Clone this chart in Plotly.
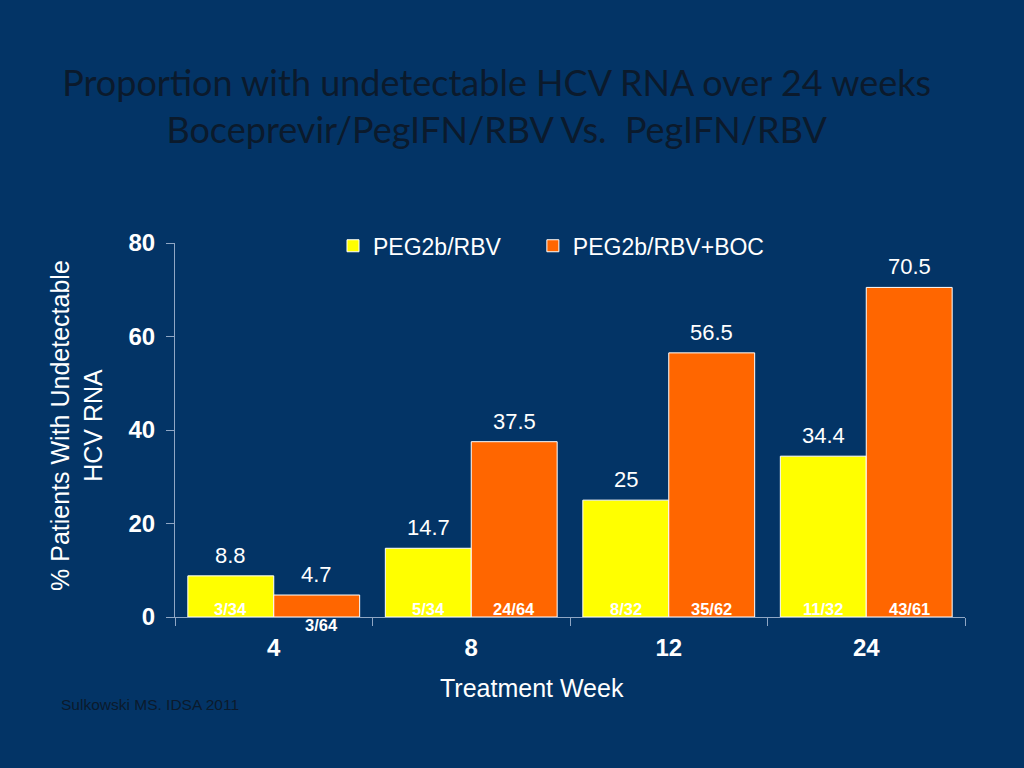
import plotly.graph_objects as go

# --- DATA ---
weeks = ["4", "8", "12", "24"]
peg_rbv = [8.8, 14.7, 25, 34.4]
peg_rbv_boc = [4.7, 37.5, 56.5, 70.5]
peg_rbv_frac = ["3/34", "5/34", "8/32", "11/32"]
peg_rbv_boc_frac = ["3/64", "24/64", "35/62", "43/61"]

BG = "#033466"
DARK = "#0b1a2c"
AXIS = "#8fa6c4"
BAR_SHIFT = 43  # half a bar width in pixels

fig = go.Figure()
fig.add_trace(go.Bar(
    x=weeks, y=peg_rbv, name="PEG2b/RBV", legend="legend",
    marker=dict(color="#FFFF00", line=dict(color="white", width=1)),
))
fig.add_trace(go.Bar(
    x=weeks, y=peg_rbv_boc, name="PEG2b/RBV+BOC", legend="legend2",
    marker=dict(color="#FF6600", line=dict(color="white", width=1)),
))

annotations = []
for i in range(len(weeks)):
    # value labels above the bars
    for v, sh in ((peg_rbv[i], -BAR_SHIFT), (peg_rbv_boc[i], BAR_SHIFT)):
        annotations.append(dict(x=i, y=v, text=f"{v:g}", showarrow=False,
                                xshift=sh, yanchor="bottom", yshift=6,
                                font=dict(color="white", size=22, family="Arial")))
    # fraction labels at the foot of each bar
    annotations.append(dict(x=i, y=0, text=f"<b>{peg_rbv_frac[i]}</b>", showarrow=False,
                            xshift=-BAR_SHIFT, yanchor="bottom", yshift=-3,
                            font=dict(color="white", size=16.5, family="Arial")))
    below = peg_rbv_boc[i] < 10  # short bar: label sits below the axis
    annotations.append(dict(x=i, y=0, text=f"<b>{peg_rbv_boc_frac[i]}</b>", showarrow=False,
                            xshift=BAR_SHIFT + (5 if below else 0),
                            yanchor="top" if below else "bottom", yshift=3 if below else -3,
                            font=dict(color="white", size=16.5, family="Arial")))

# axis titles and source note
annotations.append(dict(xref="paper", yref="paper", x=0.452, y=-0.19,
                        xanchor="center", yanchor="middle", showarrow=False,
                        text="Treatment Week",
                        font=dict(color="white", size=25, family="Arial")))
annotations.append(dict(xref="paper", yref="paper", x=-0.124, y=0.511,
                        xanchor="center", yanchor="middle", showarrow=False, textangle=-90,
                        text="% Patients With Undetectable<br>HCV RNA",
                        font=dict(color="white", size=25, family="Arial")))
annotations.append(dict(xref="paper", yref="paper", x=-0.147, y=-0.235,
                        xanchor="left", yanchor="middle", showarrow=False,
                        text="Sulkowski MS. IDSA 2011",
                        font=dict(color=DARK, size=15.5, family="Arial")))

legend_style = dict(orientation="h", y=1.05, xanchor="left", yanchor="top",
                    font=dict(color="white", size=23, family="Arial"),
                    bgcolor="rgba(0,0,0,0)", itemwidth=30)

fig.update_layout(
    width=1024, height=768,
    paper_bgcolor=BG, plot_bgcolor=BG,
    margin=dict(l=175, r=59, t=243, b=151),
    barmode="group", bargap=0.13, bargroupgap=0,
    title=dict(
        text="Proportion with undetectable HCV RNA over 24 weeks<br>Boceprevir/PegIFN/RBV Vs.  PegIFN/RBV",
        x=0.485, xanchor="center", y=0.875, yanchor="middle",
        font=dict(family="Lato", size=36, color=DARK),
    ),
    legend=dict(x=0.2, **legend_style),
    legend2=dict(x=0.453, **legend_style),
    annotations=annotations,
    showlegend=True,
)

fig.update_xaxes(
    type="category", tickson="boundaries", ticks="outside", ticklen=8,
    tickcolor=AXIS, showline=True, linecolor=AXIS, linewidth=1,
    tickfont=dict(color="white", size=24, family="Arial"),
    tickprefix="<b>", ticksuffix="</b>", tickangle=0, ticklabelstandoff=9,
    showgrid=False,
)
fig.update_yaxes(
    range=[0, 80], dtick=20, ticks="outside", ticklen=8,
    tickcolor=AXIS, showline=True, linecolor=AXIS, linewidth=1,
    tickfont=dict(color="white", size=24, family="Arial"),
    tickprefix="<b>", ticksuffix="</b>", ticklabelstandoff=6,
    showgrid=False, zeroline=False,
)

fig.write_html("out.html", config={"displayModeBar": False},
               post_script="document.body.style.margin='0';")
